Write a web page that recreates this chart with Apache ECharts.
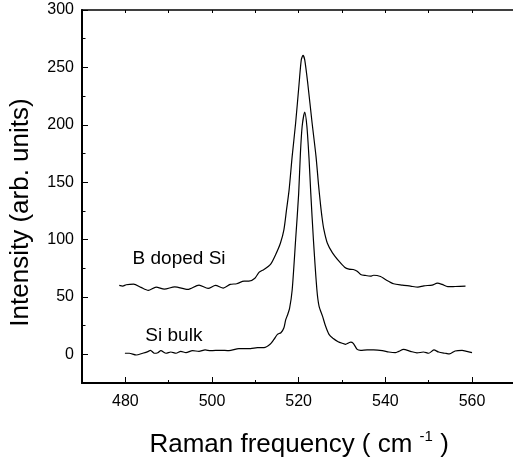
<!DOCTYPE html>
<html>
<head>
<meta charset="utf-8">
<script src="https://cdn.jsdelivr.net/npm/echarts@6/dist/echarts.min.js"></script>
<style>
html,body{margin:0;padding:0;background:#fff;width:513px;height:461px;overflow:hidden;}
#c{width:600px;height:461px;}
</style>
</head>
<body>
<div id="c"></div>
<script>
// ---- data ----
const bDopedX = [478.6,479.4,480.2,481.9,483.6,485.3,487.1,489.0,491.4,494.4,497.0,499.1,500.8,502.6,504.2,505.7,507.4,508.5,509.9,510.9,512.0,513.5,514.7,515.8,516.6,517.2,517.8,518.5,519.3,520.1,520.6,521.0,521.4,522.1,523.1,524.0,524.6,525.0,525.4,525.8,526.6,527.8,529.3,530.6,531.6,532.6,533.5,534.3,535.4,536.6,537.3,538.9,540.0,541.9,543.9,545.8,547.5,548.9,550.8,552.0,553.1,554.4,556.1,558.5];
const bDopedY = [60,59.4,60.6,61.2,58.3,55.7,58.5,56.8,58.8,56.5,60.3,57.4,60,57.7,60.9,61.5,63.7,63.7,66.3,71.6,73.9,78.3,87,97,108.7,126,143.5,172.5,201.5,236,256.5,260.5,256.5,236,201.5,172.5,147,132,119,109,97,88.4,81.1,75.9,74.2,73.9,72.4,69.6,68.7,68.1,68.9,67.8,65.2,61.5,60.3,59.4,58.5,59.7,60.3,62,60.9,58.9,59.1,59.4];
const siBulkX = [479.9,480.9,482.5,484.0,485.2,485.8,486.7,487.5,488.2,489.4,490.5,491.7,492.8,494.0,495.5,497.0,498.4,499.7,502.0,503.9,506.2,508.9,510.5,512.0,513.4,514.3,515.1,515.9,516.6,517.0,517.4,517.9,518.5,519.3,520.0,520.4,520.8,521.4,521.9,522.4,522.8,523.4,524.2,524.7,525.5,526.2,527.0,527.9,529.1,530.3,530.8,531.6,532.0,532.6,533.5,534.3,535.8,537.3,539.3,540.8,542.3,543.1,544.2,545.8,547.3,548.8,550.0,551.2,552.3,553.8,554.8,556.1,557.7,558.8,560.0];
const siBulkY = [0.9,0.9,-0.6,0.9,2.3,3.5,0.9,1.4,3.2,0.9,2,0.9,2.6,1.4,3.2,2.6,3.8,3.2,3.5,3.2,5,5,5.8,5.8,8.7,13,17.4,18.8,23.2,30,34,40,56,100,140,175,198.5,211,198.5,170,140,100,56.5,42,33.3,24.6,17.4,14,11,9.3,8.7,10.1,10.7,9.6,4.3,3.5,3.8,3.8,3.2,2,1.4,2.6,4.3,2.6,1.2,2,0.9,3.8,2,0.9,0.3,2.9,3.5,2.6,1.4];
const xMajorTicks = [480,500,520,540,560];
const xMinorTicks = [490,510,530,550];
const xTopTicks = [480,490,500,510,520,530,540,550,560,570];
const yMajorTicks = [0,50,100,150,200,250,300];
const yMinorTicks = [25,75,125,175,225,275];
const seriesNames = ['B doped Si','Si bulk'];
const seriesLabelPos = [[492.4,83.5],[491.2,16.5]];

const FONT = '"Liberation Sans", Arial, sans-serif';
const pairs = (xs, ys) => xs.map((x, i) => [x, ys[i]]);
// visible window shows 470..~570; the axis continues past the right edge of the page (no right frame line)
const X_MIN = 470, X_MAX = 580, Y_MIN = -25, Y_MAX = 300;
const PX_PER_UNIT = 4.3425;

const chart = echarts.init(document.getElementById('c'), null, {renderer: 'canvas'});
const mkHidden = () => ({splitLine: {show: false}, splitArea: {show: false}, minorTick: {show: false}, minorSplitLine: {show: false}});
const baseX = () => Object.assign({type: 'value', min: X_MIN, max: X_MAX}, mkHidden());
const baseY = () => Object.assign({type: 'value', min: Y_MIN, max: Y_MAX}, mkHidden());

const labelMark = (text, coord) => ({
  symbol: 'rect', symbolSize: 1, silent: true,
  itemStyle: {color: 'rgba(0,0,0,0)'},
  label: {show: true, formatter: text, fontFamily: FONT, fontSize: 19, color: '#000', position: 'inside'},
  data: [{coord: coord}]
});

chart.setOption({
  animation: false,
  backgroundColor: '#fff',
  grid: {show: true, borderColor: '#000', borderWidth: 1.5, backgroundColor: 'rgba(0,0,0,0)',
         left: 81, top: 10, width: (X_MAX - X_MIN) * PX_PER_UNIT, height: 373, containLabel: false},
  xAxis: [
    Object.assign(baseX(), {
      position: 'bottom',
      name: 'Raman frequency ( cm {sup|-1} )',
      nameLocation: 'start', nameGap: 0,
      nameTextStyle: {fontFamily: FONT, fontSize: 26, color: '#000', align: 'center', verticalAlign: 'top',
        padding: [46, 0, 0, 0],
        rich: {sup: {fontFamily: FONT, fontSize: 15, color: '#000', verticalAlign: 'top', padding: [0,0,16,0]}}},
      axisLine: {show: true, onZero: false, lineStyle: {color: '#000', width: 2}},
      axisTick: {show: true, inside: true, length: 6, customValues: xMajorTicks, lineStyle: {color: '#000', width: 1}},
      axisLabel: {show: true, customValues: xMajorTicks, margin: 11, fontFamily: FONT, fontSize: 16, color: '#000'}
    }),
    Object.assign(baseX(), {
      position: 'bottom',
      axisLine: {show: false, onZero: false},
      axisTick: {show: true, inside: true, length: 3, customValues: xMinorTicks, lineStyle: {color: '#000', width: 1}},
      axisLabel: {show: false}
    }),
    Object.assign(baseX(), {
      position: 'top',
      axisLine: {show: false, onZero: false},
      axisTick: {show: true, inside: true, length: 3, customValues: xTopTicks, lineStyle: {color: '#000', width: 1}},
      axisLabel: {show: false}
    })
  ],
  yAxis: [
    Object.assign(baseY(), {
      position: 'left',
      name: 'Intensity (arb. units)',
      nameLocation: 'middle', nameGap: 48, nameRotate: 90,
      nameTextStyle: {fontFamily: FONT, fontSize: 26, color: '#000', padding: [0, 32, 0, 0]},
      axisLine: {show: true, onZero: false, lineStyle: {color: '#000', width: 2}},
      axisTick: {show: true, inside: true, length: 6, customValues: yMajorTicks, lineStyle: {color: '#000', width: 1}},
      axisLabel: {show: true, customValues: yMajorTicks, margin: 8, fontFamily: FONT, fontSize: 16, color: '#000'}
    }),
    Object.assign(baseY(), {
      position: 'left',
      axisLine: {show: false, onZero: false},
      axisTick: {show: true, inside: true, length: 3.5, customValues: yMinorTicks, lineStyle: {color: '#000', width: 1}},
      axisLabel: {show: false}
    })
  ],
  series: [
    {
      name: seriesNames[0], type: 'line', xAxisIndex: 0, yAxisIndex: 0,
      data: pairs(bDopedX, bDopedY), showSymbol: false, symbol: 'none', smooth: 0.25,
      lineStyle: {color: '#000', width: 1.2},
      markPoint: labelMark(seriesNames[0], seriesLabelPos[0])
    },
    {
      name: seriesNames[1], type: 'line', xAxisIndex: 0, yAxisIndex: 0,
      data: pairs(siBulkX, siBulkY), showSymbol: false, symbol: 'none', smooth: 0.25,
      lineStyle: {color: '#000', width: 1.2},
      markPoint: labelMark(seriesNames[1], seriesLabelPos[1])
    }
  ]
});

// centre the x-axis title under the visible plot (470..570), as in the reference
const visibleCentre = (X_MIN + 570) / 2;
chart.setOption({xAxis: [{nameTextStyle: {padding: [46, 0, 0, 2 * (visibleCentre - X_MIN) * PX_PER_UNIT]}}]});
</script>
</body>
</html>
